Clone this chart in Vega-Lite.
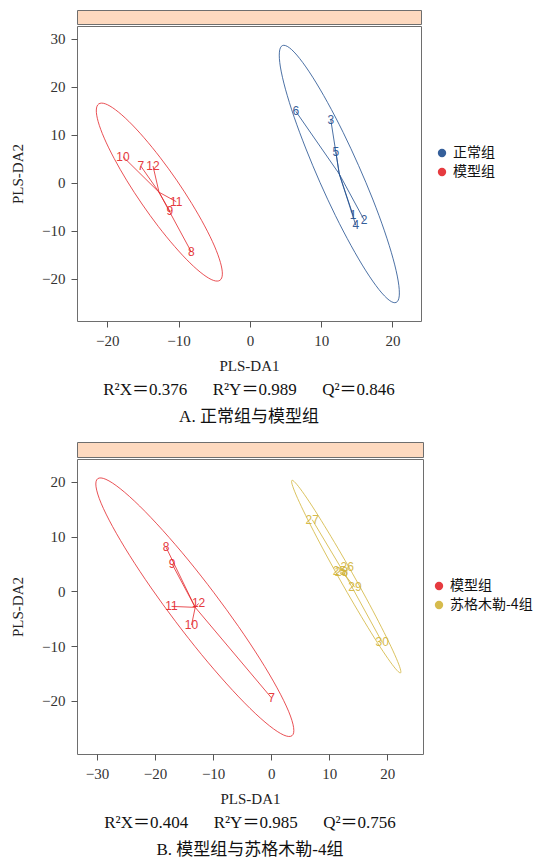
{
  "$schema": "https://vega.github.io/schema/vega-lite/v6.json",
  "background": "white",
  "padding": {"left": 10, "top": 9, "right": 0, "bottom": 0},
  "config": {
    "view": {"stroke": "#6e6e6e", "strokeWidth": 1},
    "axis": {"domain": false, "grid": false, "tickColor": "#555", "tickSize": 6, "labelFont": "Liberation Serif", "labelFontSize": 15, "labelColor": "#333", "titleFont": "Liberation Serif", "titleFontSize": 15, "titleFontWeight": "normal", "titleColor": "#222"},
    "axisX": {"labelPadding": 6, "titlePadding": 10},
    "axisY": {"labelPadding": 6, "titlePadding": 16},
    "legend": {"symbolType": "circle", "symbolSize": 70, "symbolStrokeWidth": 0, "labelFont": "Noto Sans CJK SC", "labelFontSize": 14, "labelColor": "#111", "rowPadding": 5, "padding": 0, "labelOffset": 4},
    "title": {"orient": "bottom", "anchor": "middle", "font": "Liberation Serif, Noto Sans CJK SC", "fontSize": 17, "fontWeight": "normal", "color": "#111", "offset": 9, "subtitleFont": "Liberation Serif, Noto Sans CJK SC", "subtitleFontSize": 17, "subtitleColor": "#111", "subtitlePadding": 10}
  },
  "datasets": {
    "ptsA": [
      {"group": "正常组", "id": "1", "PLS_DA1": 14.48, "PLS_DA2": -6.75},
      {"group": "正常组", "id": "2", "PLS_DA1": 16.03, "PLS_DA2": -7.71},
      {"group": "正常组", "id": "3", "PLS_DA1": 11.35, "PLS_DA2": 13.13},
      {"group": "正常组", "id": "4", "PLS_DA1": 14.86, "PLS_DA2": -8.83},
      {"group": "正常组", "id": "5", "PLS_DA1": 12.06, "PLS_DA2": 6.46},
      {"group": "正常组", "id": "6", "PLS_DA1": 6.44, "PLS_DA2": 14.92},
      {"group": "模型组", "id": "7", "PLS_DA1": -15.31, "PLS_DA2": 3.54},
      {"group": "模型组", "id": "8", "PLS_DA1": -8.21, "PLS_DA2": -14.38},
      {"group": "模型组", "id": "9", "PLS_DA1": -11.24, "PLS_DA2": -5.83},
      {"group": "模型组", "id": "10", "PLS_DA1": -17.8, "PLS_DA2": 5.48},
      {"group": "模型组", "id": "11", "PLS_DA1": -10.32, "PLS_DA2": -3.9},
      {"group": "模型组", "id": "12", "PLS_DA1": -13.59, "PLS_DA2": 3.54}
    ],
    "ellA": [
      {"group": "正常组", "idx": 0, "PLS_DA1": 20.52, "PLS_DA2": -24.88},
      {"group": "正常组", "idx": 1, "PLS_DA1": 20.95, "PLS_DA2": -23.51},
      {"group": "正常组", "idx": 2, "PLS_DA1": 20.8, "PLS_DA2": -20.41},
      {"group": "正常组", "idx": 3, "PLS_DA1": 20.09, "PLS_DA2": -15.79},
      {"group": "正常组", "idx": 4, "PLS_DA1": 18.87, "PLS_DA2": -9.97},
      {"group": "正常组", "idx": 5, "PLS_DA1": 17.22, "PLS_DA2": -3.34},
      {"group": "正常组", "idx": 6, "PLS_DA1": 15.24, "PLS_DA2": 3.65},
      {"group": "正常组", "idx": 7, "PLS_DA1": 13.09, "PLS_DA2": 10.51},
      {"group": "正常组", "idx": 8, "PLS_DA1": 10.89, "PLS_DA2": 16.78},
      {"group": "正常组", "idx": 9, "PLS_DA1": 8.81, "PLS_DA2": 22.04},
      {"group": "正常组", "idx": 10, "PLS_DA1": 6.98, "PLS_DA2": 25.93},
      {"group": "正常组", "idx": 11, "PLS_DA1": 5.54, "PLS_DA2": 28.17},
      {"group": "正常组", "idx": 12, "PLS_DA1": 4.56, "PLS_DA2": 28.62},
      {"group": "正常组", "idx": 13, "PLS_DA1": 4.14, "PLS_DA2": 27.25},
      {"group": "正常组", "idx": 14, "PLS_DA1": 4.28, "PLS_DA2": 24.15},
      {"group": "正常组", "idx": 15, "PLS_DA1": 4.99, "PLS_DA2": 19.53},
      {"group": "正常组", "idx": 16, "PLS_DA1": 6.21, "PLS_DA2": 13.71},
      {"group": "正常组", "idx": 17, "PLS_DA1": 7.87, "PLS_DA2": 7.08},
      {"group": "正常组", "idx": 18, "PLS_DA1": 9.84, "PLS_DA2": 0.09},
      {"group": "正常组", "idx": 19, "PLS_DA1": 11.99, "PLS_DA2": -6.77},
      {"group": "正常组", "idx": 20, "PLS_DA1": 14.19, "PLS_DA2": -13.04},
      {"group": "正常组", "idx": 21, "PLS_DA1": 16.27, "PLS_DA2": -18.3},
      {"group": "正常组", "idx": 22, "PLS_DA1": 18.1, "PLS_DA2": -22.19},
      {"group": "正常组", "idx": 23, "PLS_DA1": 19.55, "PLS_DA2": -24.43},
      {"group": "模型组", "idx": 0, "PLS_DA1": -4.2, "PLS_DA2": -20.27},
      {"group": "模型组", "idx": 1, "PLS_DA1": -3.86, "PLS_DA2": -19.0},
      {"group": "模型组", "idx": 2, "PLS_DA1": -4.13, "PLS_DA2": -16.57},
      {"group": "模型组", "idx": 3, "PLS_DA1": -4.97, "PLS_DA2": -13.14},
      {"group": "模型组", "idx": 4, "PLS_DA1": -6.35, "PLS_DA2": -8.94},
      {"group": "模型组", "idx": 5, "PLS_DA1": -8.16, "PLS_DA2": -4.26},
      {"group": "模型组", "idx": 6, "PLS_DA1": -10.27, "PLS_DA2": 0.58},
      {"group": "模型组", "idx": 7, "PLS_DA1": -12.56, "PLS_DA2": 5.25},
      {"group": "模型组", "idx": 8, "PLS_DA1": -14.85, "PLS_DA2": 9.43},
      {"group": "模型组", "idx": 9, "PLS_DA1": -16.99, "PLS_DA2": 12.84},
      {"group": "模型组", "idx": 10, "PLS_DA1": -18.85, "PLS_DA2": 15.25},
      {"group": "模型组", "idx": 11, "PLS_DA1": -20.28, "PLS_DA2": 16.49},
      {"group": "模型组", "idx": 12, "PLS_DA1": -21.2, "PLS_DA2": 16.47},
      {"group": "模型组", "idx": 13, "PLS_DA1": -21.54, "PLS_DA2": 15.2},
      {"group": "模型组", "idx": 14, "PLS_DA1": -21.28, "PLS_DA2": 12.77},
      {"group": "模型组", "idx": 15, "PLS_DA1": -20.43, "PLS_DA2": 9.34},
      {"group": "模型组", "idx": 16, "PLS_DA1": -19.05, "PLS_DA2": 5.14},
      {"group": "模型组", "idx": 17, "PLS_DA1": -17.25, "PLS_DA2": 0.46},
      {"group": "模型组", "idx": 18, "PLS_DA1": -15.13, "PLS_DA2": -4.38},
      {"group": "模型组", "idx": 19, "PLS_DA1": -12.85, "PLS_DA2": -9.05},
      {"group": "模型组", "idx": 20, "PLS_DA1": -10.55, "PLS_DA2": -13.23},
      {"group": "模型组", "idx": 21, "PLS_DA1": -8.41, "PLS_DA2": -16.64},
      {"group": "模型组", "idx": 22, "PLS_DA1": -6.55, "PLS_DA2": -19.05},
      {"group": "模型组", "idx": 23, "PLS_DA1": -5.12, "PLS_DA2": -20.29}
    ],
    "ptsB": [
      {"group": "模型组", "id": "7", "PLS_DA1": 0.07, "PLS_DA2": -19.47},
      {"group": "模型组", "id": "8", "PLS_DA1": -18.1, "PLS_DA2": 8.04},
      {"group": "模型组", "id": "9", "PLS_DA1": -17.07, "PLS_DA2": 5.0},
      {"group": "模型组", "id": "10", "PLS_DA1": -13.72, "PLS_DA2": -6.14},
      {"group": "模型组", "id": "11", "PLS_DA1": -17.17, "PLS_DA2": -2.74},
      {"group": "模型组", "id": "12", "PLS_DA1": -12.5, "PLS_DA2": -2.2},
      {"group": "苏格木勒-4组", "id": "25", "PLS_DA1": 11.76, "PLS_DA2": 3.69},
      {"group": "苏格木勒-4组", "id": "26", "PLS_DA1": 13.1, "PLS_DA2": 4.38},
      {"group": "苏格木勒-4组", "id": "27", "PLS_DA1": 7.07, "PLS_DA2": 13.1},
      {"group": "苏格木勒-4组", "id": "28", "PLS_DA1": 12.1, "PLS_DA2": 3.6},
      {"group": "苏格木勒-4组", "id": "29", "PLS_DA1": 14.43, "PLS_DA2": 0.73},
      {"group": "苏格木勒-4组", "id": "30", "PLS_DA1": 19.14, "PLS_DA2": -9.32}
    ],
    "ellB": [
      {"group": "模型组", "idx": 0, "PLS_DA1": 3.59, "PLS_DA2": -26.36},
      {"group": "模型组", "idx": 1, "PLS_DA1": 3.87, "PLS_DA2": -24.88},
      {"group": "模型组", "idx": 2, "PLS_DA1": 3.0, "PLS_DA2": -21.89},
      {"group": "模型组", "idx": 3, "PLS_DA1": 1.02, "PLS_DA2": -17.62},
      {"group": "模型组", "idx": 4, "PLS_DA1": -1.92, "PLS_DA2": -12.34},
      {"group": "模型组", "idx": 5, "PLS_DA1": -5.63, "PLS_DA2": -6.41},
      {"group": "模型组", "idx": 6, "PLS_DA1": -9.85, "PLS_DA2": -0.25},
      {"group": "模型组", "idx": 7, "PLS_DA1": -14.29, "PLS_DA2": 5.74},
      {"group": "模型组", "idx": 8, "PLS_DA1": -18.66, "PLS_DA2": 11.13},
      {"group": "模型组", "idx": 9, "PLS_DA1": -22.65, "PLS_DA2": 15.58},
      {"group": "模型组", "idx": 10, "PLS_DA1": -26.0, "PLS_DA2": 18.76},
      {"group": "模型组", "idx": 11, "PLS_DA1": -28.46, "PLS_DA2": 20.46},
      {"group": "模型组", "idx": 12, "PLS_DA1": -29.89, "PLS_DA2": 20.58},
      {"group": "模型组", "idx": 13, "PLS_DA1": -30.17, "PLS_DA2": 19.1},
      {"group": "模型组", "idx": 14, "PLS_DA1": -29.3, "PLS_DA2": 16.11},
      {"group": "模型组", "idx": 15, "PLS_DA1": -27.32, "PLS_DA2": 11.84},
      {"group": "模型组", "idx": 16, "PLS_DA1": -24.38, "PLS_DA2": 6.56},
      {"group": "模型组", "idx": 17, "PLS_DA1": -20.67, "PLS_DA2": 0.63},
      {"group": "模型组", "idx": 18, "PLS_DA1": -16.45, "PLS_DA2": -5.53},
      {"group": "模型组", "idx": 19, "PLS_DA1": -12.01, "PLS_DA2": -11.52},
      {"group": "模型组", "idx": 20, "PLS_DA1": -7.64, "PLS_DA2": -16.91},
      {"group": "模型组", "idx": 21, "PLS_DA1": -3.65, "PLS_DA2": -21.36},
      {"group": "模型组", "idx": 22, "PLS_DA1": -0.3, "PLS_DA2": -24.54},
      {"group": "模型组", "idx": 23, "PLS_DA1": 2.16, "PLS_DA2": -26.24},
      {"group": "苏格木勒-4组", "idx": 0, "PLS_DA1": 22.29, "PLS_DA2": -14.88},
      {"group": "苏格木勒-4组", "idx": 1, "PLS_DA1": 22.24, "PLS_DA2": -14.12},
      {"group": "苏格木勒-4组", "idx": 2, "PLS_DA1": 21.56, "PLS_DA2": -12.21},
      {"group": "苏格木勒-4组", "idx": 3, "PLS_DA1": 20.29, "PLS_DA2": -9.29},
      {"group": "苏格木勒-4组", "idx": 4, "PLS_DA1": 18.52, "PLS_DA2": -5.55},
      {"group": "苏格木勒-4组", "idx": 5, "PLS_DA1": 16.37, "PLS_DA2": -1.24},
      {"group": "苏格木勒-4组", "idx": 6, "PLS_DA1": 13.98, "PLS_DA2": 3.33},
      {"group": "苏格木勒-4组", "idx": 7, "PLS_DA1": 11.52, "PLS_DA2": 7.86},
      {"group": "苏格木勒-4组", "idx": 8, "PLS_DA1": 9.16, "PLS_DA2": 12.03},
      {"group": "苏格木勒-4组", "idx": 9, "PLS_DA1": 7.06, "PLS_DA2": 15.58},
      {"group": "苏格木勒-4组", "idx": 10, "PLS_DA1": 5.36, "PLS_DA2": 18.24},
      {"group": "苏格木勒-4组", "idx": 11, "PLS_DA1": 4.17, "PLS_DA2": 19.84},
      {"group": "苏格木勒-4组", "idx": 12, "PLS_DA1": 3.58, "PLS_DA2": 20.28},
      {"group": "苏格木勒-4组", "idx": 13, "PLS_DA1": 3.62, "PLS_DA2": 19.52},
      {"group": "苏格木勒-4组", "idx": 14, "PLS_DA1": 4.3, "PLS_DA2": 17.61},
      {"group": "苏格木勒-4组", "idx": 15, "PLS_DA1": 5.57, "PLS_DA2": 14.69},
      {"group": "苏格木勒-4组", "idx": 16, "PLS_DA1": 7.34, "PLS_DA2": 10.95},
      {"group": "苏格木勒-4组", "idx": 17, "PLS_DA1": 9.49, "PLS_DA2": 6.64},
      {"group": "苏格木勒-4组", "idx": 18, "PLS_DA1": 11.88, "PLS_DA2": 2.07},
      {"group": "苏格木勒-4组", "idx": 19, "PLS_DA1": 14.34, "PLS_DA2": -2.46},
      {"group": "苏格木勒-4组", "idx": 20, "PLS_DA1": 16.7, "PLS_DA2": -6.63},
      {"group": "苏格木勒-4组", "idx": 21, "PLS_DA1": 18.8, "PLS_DA2": -10.18},
      {"group": "苏格木勒-4组", "idx": 22, "PLS_DA1": 20.5, "PLS_DA2": -12.84},
      {"group": "苏格木勒-4组", "idx": 23, "PLS_DA1": 21.69, "PLS_DA2": -14.44}
    ]
  },
  "resolve": {"scale": {"color": "independent"}, "legend": {"color": "independent"}},
  "spacing": 15,
  "vconcat": [
    {
      "spacing": 0,
      "resolve": {"scale": {"color": "independent"}, "legend": {"color": "independent"}},
      "vconcat": [
        {
          "width": 344, "height": 14,
          "view": {"fill": "#fdd9bf", "stroke": "#6e6e6e"},
          "data": {"values": [{"t": ""}]},
          "mark": {"type": "text"},
          "encoding": {"text": {"field": "t"}}
        },
        {
          "width": 344, "height": 295,
          "title": {"text": "R²X＝0.376\u2003\u2002R²Y＝0.989\u2003\u2002Q²＝0.846", "subtitle": "A. 正常组与模型组"},
          "layer": [
            {
              "data": {"name": "ptsA"},
              "mark": {"type": "text", "font": "Liberation Sans", "fontSize": 12, "opacity": 0.9},
              "encoding": {
                "x": {"field": "PLS_DA1", "type": "quantitative", "scale": {"domain": [-24.25, 24], "nice": false, "zero": false}, "axis": {"title": "PLS-DA1", "values": [-20, -10, 0, 10, 20]}},
                "y": {"field": "PLS_DA2", "type": "quantitative", "scale": {"domain": [-28.75, 32.7], "nice": false, "zero": false}, "axis": {"title": "PLS-DA2", "values": [-20, -10, 0, 10, 20, 30]}},
                "text": {"field": "id"},
                "color": {"field": "group", "type": "nominal", "scale": {"domain": ["正常组", "模型组"], "range": ["#1f4e8f", "#e3262b"]}, "legend": {"title": null, "orient": "none", "legendX": 358, "legendY": 120}}
              }
            },
            {
              "data": {"name": "ellA"},
              "mark": {"type": "line", "interpolate": "cardinal-closed", "strokeWidth": 1, "opacity": 0.8},
              "encoding": {
                "x": {"field": "PLS_DA1", "type": "quantitative"},
                "y": {"field": "PLS_DA2", "type": "quantitative"},
                "order": {"field": "idx", "type": "quantitative"},
                "color": {"field": "group", "type": "nominal"}
              }
            },
            {
              "data": {"name": "ptsA"},
              "transform": [{"joinaggregate": [{"op": "mean", "field": "PLS_DA1", "as": "cx"}, {"op": "mean", "field": "PLS_DA2", "as": "cy"}], "groupby": ["group"]}],
              "mark": {"type": "rule", "strokeWidth": 1, "opacity": 0.8},
              "encoding": {
                "x": {"field": "PLS_DA1", "type": "quantitative"},
                "y": {"field": "PLS_DA2", "type": "quantitative"},
                "x2": {"field": "cx"},
                "y2": {"field": "cy"},
                "color": {"field": "group", "type": "nominal"}
              }
            }
          ]
        }
      ]
    },
    {
      "spacing": 0,
      "resolve": {"scale": {"color": "independent"}, "legend": {"color": "independent"}},
      "vconcat": [
        {
          "width": 346, "height": 15,
          "view": {"fill": "#fdd9bf", "stroke": "#6e6e6e"},
          "data": {"values": [{"t": ""}]},
          "mark": {"type": "text"},
          "encoding": {"text": {"field": "t"}}
        },
        {
          "width": 346, "height": 295,
          "title": {"text": "R²X＝0.404\u2003\u2002R²Y＝0.985\u2003\u2002Q²＝0.756", "subtitle": "B. 模型组与苏格木勒-4组"},
          "layer": [
            {
              "data": {"name": "ptsB"},
              "mark": {"type": "text", "font": "Liberation Sans", "fontSize": 12, "opacity": 0.9},
              "encoding": {
                "x": {"field": "PLS_DA1", "type": "quantitative", "scale": {"domain": [-33.45, 26.16], "nice": false, "zero": false}, "axis": {"title": "PLS-DA1", "values": [-30, -20, -10, 0, 10, 20]}},
                "y": {"field": "PLS_DA2", "type": "quantitative", "scale": {"domain": [-29.7, 24.18], "nice": false, "zero": false}, "axis": {"title": "PLS-DA2", "values": [-20, -10, 0, 10, 20]}},
                "text": {"field": "id"},
                "color": {"field": "group", "type": "nominal", "scale": {"domain": ["模型组", "苏格木勒-4组"], "range": ["#e3262b", "#d2b43a"]}, "legend": {"title": null, "orient": "none", "legendX": 355, "legendY": 120}}
              }
            },
            {
              "data": {"name": "ellB"},
              "mark": {"type": "line", "interpolate": "cardinal-closed", "strokeWidth": 1, "opacity": 0.8},
              "encoding": {
                "x": {"field": "PLS_DA1", "type": "quantitative"},
                "y": {"field": "PLS_DA2", "type": "quantitative"},
                "order": {"field": "idx", "type": "quantitative"},
                "color": {"field": "group", "type": "nominal"}
              }
            },
            {
              "data": {"name": "ptsB"},
              "transform": [{"joinaggregate": [{"op": "mean", "field": "PLS_DA1", "as": "cx"}, {"op": "mean", "field": "PLS_DA2", "as": "cy"}], "groupby": ["group"]}],
              "mark": {"type": "rule", "strokeWidth": 1, "opacity": 0.8},
              "encoding": {
                "x": {"field": "PLS_DA1", "type": "quantitative"},
                "y": {"field": "PLS_DA2", "type": "quantitative"},
                "x2": {"field": "cx"},
                "y2": {"field": "cy"},
                "color": {"field": "group", "type": "nominal"}
              }
            }
          ]
        }
      ]
    }
  ]
}
